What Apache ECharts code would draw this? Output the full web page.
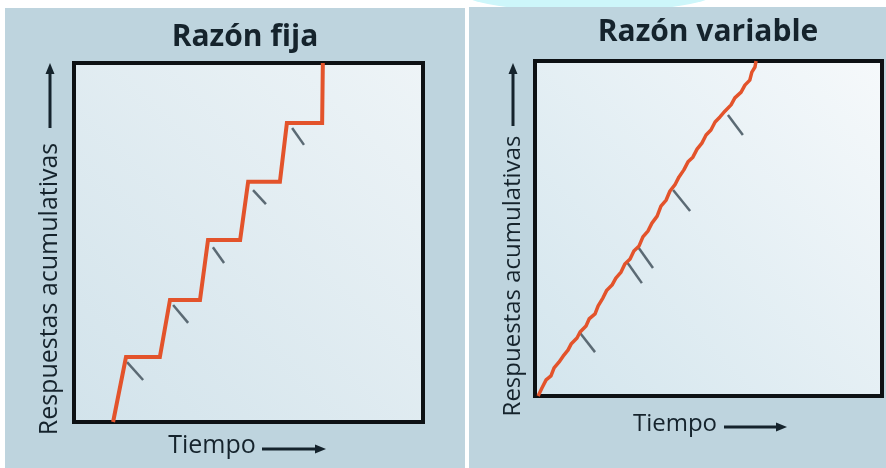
<!DOCTYPE html>
<html>
<head>
<meta charset="utf-8">
<script src="https://cdn.jsdelivr.net/npm/echarts@6/dist/echarts.min.js"></script>
<style>
  html, body { margin:0; padding:0; background:#ffffff; }
  #wrap { position:relative; width:886px; height:468px; overflow:hidden; background:#ffffff; }
  #glow { position:absolute; left:458px; top:-32px; width:262px; height:44px; border-radius:50%; background:#cdf6fa; }
  #p1 { position:absolute; left:5px; top:8px; width:460px; height:460px; background:#bed4de; }
  #p2 { position:absolute; left:469px; top:7px; width:417px; height:461px; background:#bed4de; }
  #chart { position:absolute; left:0; top:0; width:886px; height:468px; }
</style>
</head>
<body>
<div id="wrap">
  <div id="glow"></div>
  <div id="p1"></div>
  <div id="p2"></div>
  <div id="chart"></div>
</div>
<script>
// ---- Data (axes run 0..100 in both directions) ----
const titles = ['Razón fija', 'Razón variable'];
const yAxisLabel = 'Respuestas acumulativas';
const xAxisLabel = 'Tiempo';

// Fixed ratio: staircase cumulative record
const fixedX = [11.2, 14.9, 24.6, 27.5, 36.1, 38.4, 47.6, 49.9, 59.0, 61.0, 71.1, 71.3];
const fixedY = [0, 18.1, 18.1, 34.0, 34.0, 50.7, 50.7, 66.9, 66.9, 83.3, 83.3, 100];
// reinforcement hash marks: [x1, y1, x2, y2]
const fixedHashes = [
  [15.2, 16.7, 19.8, 11.7],
  [28.4, 32.6, 32.7, 27.6],
  [39.8, 48.7, 43.0, 44.3],
  [51.3, 64.6, 55.0, 60.7],
  [62.5, 81.9, 65.9, 77.2]
];

// Variable ratio: steady, slightly wavy cumulative record
const variableX = [0.9, 2.0, 3.2, 4.6, 5.5, 6.9, 8.1, 9.5, 10.4, 12.1, 13.0, 14.7, 15.6, 17.3, 18.2,
  19.6, 20.7, 22.2, 23.3, 24.8, 25.9, 27.4, 28.5, 30.0, 31.1, 32.6, 33.7, 35.2, 36.3, 37.8, 38.9,
  40.3, 41.5, 42.9, 44.1, 45.5, 46.7, 48.1, 49.3, 50.7, 51.9, 53.3, 54.8, 56.5, 57.6, 59.4, 60.5,
  61.9, 62.5, 63.4, 63.7];
const variableY = [0, 2.4, 4.8, 6.0, 8.4, 10.1, 11.9, 13.7, 15.5, 17.3, 19.1, 20.9, 23.0, 24.5, 26.9,
  29.3, 31.6, 33.1, 35.2, 37.0, 39.4, 40.9, 43.3, 44.8, 47.5, 49.3, 51.6, 53.7, 56.7, 58.5, 61.2,
  63.0, 65.4, 67.5, 69.9, 71.3, 73.7, 75.5, 77.9, 79.4, 81.8, 83.3, 85.1, 86.9, 89.0, 90.7, 92.8,
  94.3, 96.7, 98.2, 100];
const variableHashes = [
  [13.0, 18.8, 17.3, 13.1],
  [26.5, 40.0, 30.8, 33.7],
  [29.7, 44.5, 34.0, 38.2],
  [39.8, 61.5, 44.7, 55.2],
  [55.6, 83.9, 59.9, 77.9]
];

// ---- Chart ----
const chart = echarts.init(document.getElementById('chart'), null, { renderer: 'canvas' });

const RED = '#e3532b';
const HASH = '#5b6a74';
const INK = '#15232c';
const FONT = '"Open Sans", "Noto Sans", sans-serif';

function zip(xs, ys) { return xs.map((x, i) => [x, ys[i]]); }
function hashData(h) { return h.map(a => ({ coords: [[a[0], a[1]], [a[2], a[3]]] })); }

function plotBg(c1, c2) {
  return new echarts.graphic.LinearGradient(0, 1, 1, 0, [
    { offset: 0, color: c1 }, { offset: 1, color: c2 }
  ]);
}

function axisArrowUp(x, yBottom, yTop) {
  return [
    { type: 'line', shape: { x1: x, y1: yBottom, x2: x, y2: yTop + 8 }, style: { stroke: INK, lineWidth: 3 } },
    { type: 'polygon', shape: { points: [[x, yTop], [x - 4.5, yTop + 11], [x + 4.5, yTop + 11]] }, style: { fill: INK } }
  ];
}
function axisArrowRight(xLeft, xRight, y) {
  return [
    { type: 'line', shape: { x1: xLeft, y1: y, x2: xRight - 8, y2: y }, style: { stroke: INK, lineWidth: 3 } },
    { type: 'polygon', shape: { points: [[xRight, y], [xRight - 11, y - 4.5], [xRight - 11, y + 4.5]] }, style: { fill: INK } }
  ];
}

function label(text, x, y, size, rot) {
  return { type: 'text', x: x, y: y, rotation: rot || 0,
    style: { text: text, fill: INK, font: '500 ' + size + 'px ' + FONT, textAlign: 'center', textVerticalAlign: 'middle' } };
}

const option = {
  backgroundColor: 'transparent',
  animation: false,
  grid: [
    { left: 74, top: 63, width: 349, height: 359, show: true, borderColor: '#0d1114', borderWidth: 4,
      backgroundColor: plotBg('#d2e3eb', '#eef4f7') },
    { left: 535, top: 61, width: 347, height: 335, show: true, borderColor: '#0d1114', borderWidth: 4,
      backgroundColor: plotBg('#d3e5ed', '#f6f9fb') }
  ],
  xAxis: [
    { type: 'value', gridIndex: 0, min: 0, max: 100, show: false },
    { type: 'value', gridIndex: 1, min: 0, max: 100, show: false }
  ],
  yAxis: [
    { type: 'value', gridIndex: 0, min: 0, max: 100, show: false },
    { type: 'value', gridIndex: 1, min: 0, max: 100, show: false }
  ],
  series: [
    { name: titles[0], type: 'line', xAxisIndex: 0, yAxisIndex: 0, data: zip(fixedX, fixedY),
      symbol: 'none', clip: true, lineStyle: { color: RED, width: 4, join: 'miter' }, z: 3 },
    { type: 'lines', coordinateSystem: 'cartesian2d', xAxisIndex: 0, yAxisIndex: 0,
      data: hashData(fixedHashes), lineStyle: { color: HASH, width: 2.5, opacity: 1 }, z: 2 },
    { name: titles[1], type: 'line', xAxisIndex: 1, yAxisIndex: 1, data: zip(variableX, variableY),
      symbol: 'none', clip: true, lineStyle: { color: RED, width: 3.5, join: 'round' }, z: 3 },
    { type: 'lines', coordinateSystem: 'cartesian2d', xAxisIndex: 1, yAxisIndex: 1,
      data: hashData(variableHashes), lineStyle: { color: HASH, width: 2.5, opacity: 1 }, z: 2 }
  ],
  graphic: [
    // titles
    { type: 'text', x: 245, y: 37, style: { text: titles[0], fill: INK, font: 'bold 30px ' + FONT, textAlign: 'center', textVerticalAlign: 'middle' } },
    { type: 'text', x: 708, y: 32, style: { text: titles[1], fill: INK, font: 'bold 30px ' + FONT, textAlign: 'center', textVerticalAlign: 'middle' } },
    // left panel axis labels
    label(yAxisLabel, 50, 289, 25, Math.PI / 2),
    ...axisArrowUp(50, 128, 63),
    label(xAxisLabel, 212, 446, 25),
    ...axisArrowRight(262, 326, 449),
    // right panel axis labels
    label(yAxisLabel, 513, 276, 24, Math.PI / 2),
    ...axisArrowUp(513, 126, 63),
    label(xAxisLabel, 675, 424, 24),
    ...axisArrowRight(724, 787, 427)
  ]
};

chart.setOption(option);
</script>
</body>
</html>
